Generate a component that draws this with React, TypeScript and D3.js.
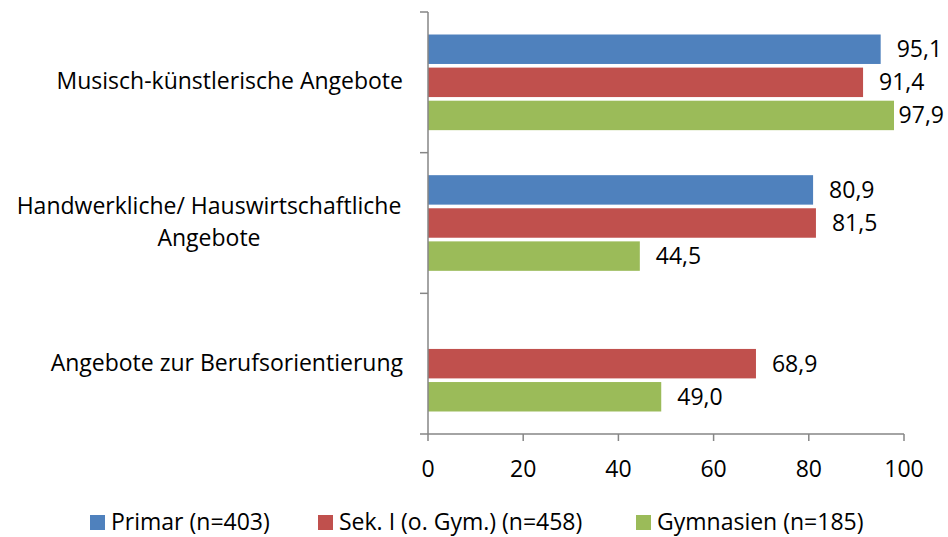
import React from "react"
import * as d3 from "d3"

const categories = [
  ["Musisch-künstlerische Angebote"],
  ["Handwerkliche/ Hauswirtschaftliche", "Angebote"],
  ["Angebote zur Berufsorientierung"],
]
const seriesNames = ["Primar (n=403)", "Sek. I (o. Gym.) (n=458)", "Gymnasien (n=185)"]
const seriesColors = ["#4F81BD", "#C0504D", "#9BBB59"]
// one row per category, one value per series (null = no bar)
const primar = [95.1, 80.9, null]
const sek1 = [91.4, 81.5, 68.9]
const gymnasien = [97.9, 44.5, 49.0]
const xTicks = [0, 20, 40, 60, 80, 100]

const W = 948
const H = 537
const font = "'Open Sans', 'Noto Sans', sans-serif"
const fs = 23
const axisColor = "#868686"

export default function App() {
  const values = [primar, sek1, gymnasien]

  const x = d3.scaleLinear().domain([0, 100]).range([428, 904])
  const y = d3.scaleBand<number>().domain(d3.range(categories.length)).range([12, 434])
  const ys = d3.scaleBand<number>()
    .domain(d3.range(seriesNames.length))
    .range([0, y.bandwidth()])
    .paddingInner(0.11)
    .paddingOuter(0.68)

  const fmt = (v: number) => d3.format(".1f")(v).replace(".", ",")

  const legendX = [90, 318, 636]

  return (
    <svg width={W} height={H} style={{ position: "absolute", left: 0, top: 0, background: "#fff" }}
      fontFamily={font} fontSize={fs}>
      <rect width={W} height={H} fill="#fff" />

      {/* bars */}
      {values.map((vals, s) =>
        vals.map((v, c) => v == null ? null : (
          <rect key={`b${s}-${c}`}
            x={x(0)} y={y(c)! + ys(s)!}
            width={x(v) - x(0)} height={ys.bandwidth()}
            fill={seriesColors[s]} />
        ))
      )}

      {/* value labels */}
      {values.map((vals, s) =>
        vals.map((v, c) => {
          if (v == null) return null
          const cy = y(c)! + ys(s)! + ys.bandwidth() / 2
          let lx = x(v) + 16
          let anchor = "start"
          if (lx + 46 > W - 4) { lx = W - 4; anchor = "end" }
          return (
            <text key={`l${s}-${c}`} x={lx} y={cy + 8} textAnchor={anchor} fill="#000">{fmt(v)}</text>
          )
        })
      )}

      {/* vertical axis */}
      <line x1={x(0)} x2={x(0)} y1={12} y2={434} stroke={axisColor} strokeWidth={1.5} />
      {d3.range(categories.length + 1).map(i => {
        const ty = i < categories.length ? y(i)! : y.range()[1]
        return <line key={`yt${i}`} x1={x(0) - 8} x2={x(0)} y1={ty} y2={ty} stroke={axisColor} strokeWidth={1.5} />
      })}

      {/* category labels */}
      {categories.map((lines, c) => {
        const cy = y(c)! + y.bandwidth() / 2
        const lh = 32
        const y0 = cy + 7 - ((lines.length - 1) * lh) / 2
        const cx = lines.length > 1 ? 209 : 403
        return (
          <text key={`c${c}`} textAnchor={lines.length > 1 ? "middle" : "end"} fill="#000">
            {lines.map((t, i) => (
              <tspan key={i} x={cx} y={y0 + i * lh}>{t}</tspan>
            ))}
          </text>
        )
      })}

      {/* horizontal axis */}
      <line x1={x(0)} x2={x(100)} y1={434} y2={434} stroke={axisColor} strokeWidth={1.5} />
      {xTicks.map(t => (
        <g key={`xt${t}`}>
          <line x1={x(t)} x2={x(t)} y1={434} y2={441} stroke={axisColor} strokeWidth={1.5} />
          <text x={x(t)} y={477} textAnchor="middle" fill="#000">{t}</text>
        </g>
      ))}

      {/* legend */}
      {seriesNames.map((n, s) => (
        <g key={`lg${s}`}>
          <rect x={legendX[s]} y={515} width={15} height={15} fill={seriesColors[s]} />
          <text x={legendX[s] + 21} y={530} fill="#000">{n}</text>
        </g>
      ))}
    </svg>
  )
}
